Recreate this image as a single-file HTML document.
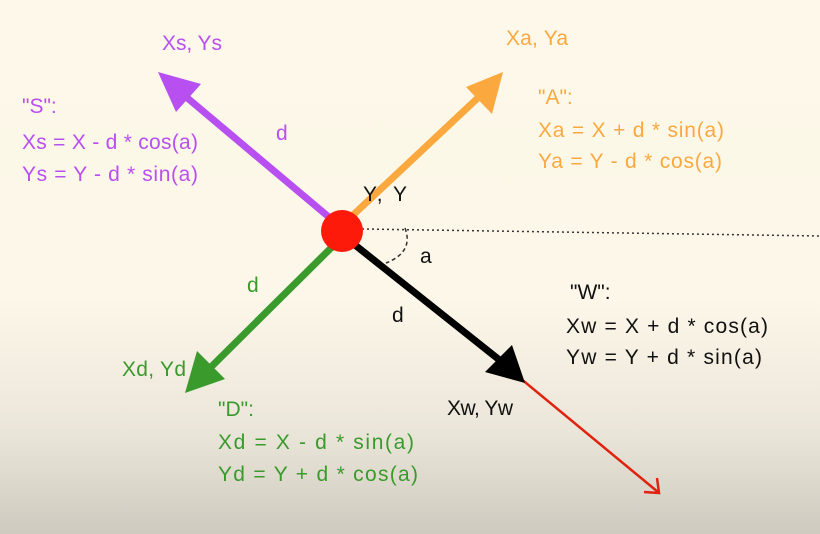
<!DOCTYPE html>
<html><head><meta charset="utf-8"><style>
html,body{margin:0;padding:0;}
body{width:820px;height:534px;overflow:hidden;background:linear-gradient(to bottom,#fdf8e9 0px,#fcf7e8 300px,#ebe6da 430px,#cfcabf 534px);font-family:"Liberation Sans",sans-serif;}
svg{position:absolute;left:0;top:0;}
text{font-family:"Liberation Sans",sans-serif;font-size:21px;}
</style></head><body>
<svg width="820" height="534">
<line x1="362" y1="229" x2="820" y2="236" stroke="#333" stroke-width="1.5" stroke-dasharray="2,3"/>
<path d="M405,228 Q414,252 386,263" fill="none" stroke="#333" stroke-width="1.5" stroke-dasharray="4,3"/>
<line x1="520" y1="378" x2="658" y2="492" stroke="#e0220f" stroke-width="2.5"/>
<polyline points="644,492 659,493 657,478" fill="none" stroke="#e0220f" stroke-width="2.5"/>
<line x1="330" y1="218" x2="185" y2="96" stroke="#b84ff0" stroke-width="7"/>
<polygon points="158,72 201,84 176,112" fill="#b84ff0"/>
<line x1="352" y1="216" x2="482" y2="94" stroke="#fba93f" stroke-width="7"/>
<polygon points="503,72 492,114 466,87" fill="#fba93f"/>
<line x1="355" y1="245" x2="502" y2="362" stroke="#000" stroke-width="7"/>
<polygon points="525,383 485,372 512,345" fill="#000"/>
<line x1="335" y1="244" x2="208" y2="370" stroke="#3a9a2c" stroke-width="7"/>
<polygon points="185,393 197,351 225,379" fill="#3a9a2c"/>
<circle cx="342" cy="231" r="21" fill="#fe1a0a"/>
<text x="363" y="201" fill="#111" textLength="44">Y, Y</text>
<text x="420" y="263" fill="#111">a</text>
<text x="276" y="140" fill="#b84ff0">d</text>
<text x="247" y="292" fill="#3a9a2c">d</text>
<text x="392" y="322" fill="#111">d</text>
<text x="162" y="50" fill="#b84ff0" textLength="60">Xs, Ys</text>
<text x="22" y="113" fill="#b84ff0">"S":</text>
<text x="22" y="149" fill="#b84ff0" textLength="176">Xs = X - d * cos(a)</text>
<text x="22" y="181" fill="#b84ff0" textLength="176">Ys = Y - d * sin(a)</text>
<text x="506" y="45" fill="#fba93f" textLength="62">Xa, Ya</text>
<text x="538" y="104" fill="#fba93f">"A":</text>
<text x="538" y="137" fill="#fba93f" textLength="186">Xa = X + d * sin(a)</text>
<text x="538" y="168" fill="#fba93f" textLength="184">Ya = Y - d * cos(a)</text>
<text x="570" y="299" fill="#111">"W":</text>
<text x="566" y="333" fill="#111" textLength="202">Xw = X + d * cos(a)</text>
<text x="566" y="364" fill="#111" textLength="196">Yw = Y + d * sin(a)</text>
<text x="447" y="415" fill="#111" textLength="66">Xw, Yw</text>
<text x="122" y="376" fill="#3a9a2c" textLength="64">Xd, Yd</text>
<text x="218" y="416" fill="#3a9a2c">"D":</text>
<text x="218" y="449" fill="#3a9a2c" textLength="196">Xd = X - d * sin(a)</text>
<text x="218" y="481" fill="#3a9a2c" textLength="200">Yd = Y + d * cos(a)</text>
</svg>
</body></html>
